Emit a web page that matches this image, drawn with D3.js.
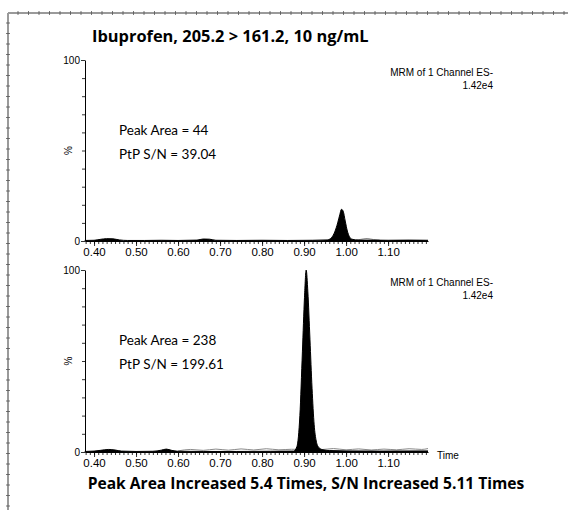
<!DOCTYPE html>
<html>
<head>
<meta charset="utf-8">
<script src="https://cdn.jsdelivr.net/npm/d3@7"></script>
<style>
  body { margin: 0; background: #fff; }
  svg { display: block; }
</style>
</head>
<body>
<div id="chart"></div>
<script>
// chromatogram data, time (min) vs. relative intensity (%)
const titleText = "Ibuprofen, 205.2 > 161.2, 10 ng/mL";
const footerText = "Peak Area Increased 5.4 Times, S/N Increased 5.11 Times";
const channelLabel = ["MRM of 1 Channel ES-", "1.42e4"];
const timeTicks = [0.40, 0.50, 0.60, 0.70, 0.80, 0.90, 1.00, 1.10];
const yLabels = [0, 100];

const trace1 = [
  [0.378, 0.3], [0.40, 0.4], [0.415, 0.9], [0.43, 1.3], [0.445, 1.2], [0.46, 0.6],
  [0.48, 0.3], [0.52, 0.3], [0.56, 0.4], [0.60, 0.3], [0.645, 0.5], [0.66, 1.1],
  [0.675, 1.0], [0.69, 0.4], [0.74, 0.3], [0.80, 0.4], [0.86, 0.3], [0.92, 0.4],
  [0.955, 0.6], [0.965, 1.8], [0.973, 5], [0.980, 10], [0.985, 14.5], [0.989, 17.5],
  [0.993, 16.5], [0.998, 11], [1.003, 5.5], [1.008, 2.4], [1.014, 1.0], [1.03, 0.5],
  [1.06, 0.5], [1.10, 0.4], [1.15, 0.5], [1.195, 0.4]
];
const noise1 = [
  [1.02, 0.4], [1.035, 0.9], [1.05, 1.4], [1.065, 0.8], [1.08, 0.5]
];
const trace2 = [
  [0.378, 0.3], [0.40, 0.5], [0.415, 0.9], [0.435, 1.4], [0.45, 1.1], [0.465, 0.5],
  [0.50, 0.3], [0.54, 0.4], [0.56, 1.0], [0.572, 1.6], [0.585, 0.9], [0.60, 0.4],
  [0.66, 0.3], [0.74, 0.3], [0.82, 0.4], [0.875, 0.5], [0.883, 3], [0.890, 20],
  [0.896, 55], [0.901, 85], [0.905, 100], [0.909, 88], [0.914, 62], [0.919, 35],
  [0.924, 15], [0.929, 6], [0.935, 2.5], [0.945, 1.2], [0.96, 0.8], [1.00, 0.6],
  [1.08, 0.5], [1.195, 0.6]
];
const noise2 = [
  [0.60, 0.6], [0.63, 1.4], [0.66, 0.9], [0.69, 1.6], [0.72, 1.0], [0.75, 1.7],
  [0.78, 1.1], [0.81, 1.8], [0.84, 1.2], [0.87, 1.5], [0.94, 1.3], [0.97, 1.9],
  [1.00, 1.2], [1.03, 1.7], [1.06, 1.1], [1.09, 1.6], [1.12, 1.2], [1.15, 1.8],
  [1.18, 1.4], [1.195, 1.9]
];
const peakNotes1 = ["Peak Area = 44", "PtP S/N = 39.04"];
const peakNotes2 = ["Peak Area = 238", "PtP S/N = 199.61"];

const W = 568, H = 510;
const svg = d3.select("#chart").append("svg").attr("width", W).attr("height", H);

// ruler-like page border (top and left)
const frame = svg.append("g").attr("class", "frame");
frame.append("line").attr("x1", 8).attr("x2", W).attr("y1", 13).attr("y2", 13)
  .attr("stroke", "#9a9a9a").attr("stroke-width", 2);
frame.append("line").attr("x1", 8).attr("x2", 8).attr("y1", 13).attr("y2", H)
  .attr("stroke", "#9a9a9a").attr("stroke-width", 2);
d3.range(18, W, 10.5).forEach(x => {
  frame.append("line").attr("x1", x).attr("x2", x).attr("y1", 11).attr("y2", 15)
    .attr("stroke", "#555").attr("stroke-width", 0.8);
});
d3.range(23, H, 10.5).forEach(y => {
  frame.append("line").attr("x1", 6).attr("x2", 10).attr("y1", y).attr("y2", y)
    .attr("stroke", "#555").attr("stroke-width", 0.8);
});

const bodyFont = "Lato, 'Open Sans', sans-serif";
const boldFont = "'Open Sans', Lato, sans-serif";
const axisFont = "'Liberation Sans', Arial, sans-serif";

svg.append("text")
  .attr("x", 92).attr("y", 42)
  .style("font-family", boldFont).style("font-weight", "bold").style("font-size", "16.4px")
  .attr("fill", "#000")
  .text(titleText);

svg.append("text")
  .attr("x", 306).attr("y", 489)
  .attr("text-anchor", "middle")
  .style("font-family", boldFont).style("font-weight", "bold").style("font-size", "15.6px")
  .attr("fill", "#000")
  .text(footerText);

const x = d3.scaleLinear().domain([0.3785, 1.195]).range([85, 428]);

function drawPanel({top, bottom, trace, noise, notes, showTime}) {
  const y = d3.scaleLinear().domain([0, 100]).range([bottom, top]);
  const g = svg.append("g").attr("class", "panel");

  const area = d3.area().x(d => x(d[0])).y0(y(0)).y1(d => y(d[1])).curve(d3.curveMonotoneX);
  const line = d3.line().x(d => x(d[0])).y(d => y(d[1])).curve(d3.curveMonotoneX);

  g.append("path").datum(noise).attr("d", line)
    .attr("fill", "none").attr("stroke", "#8a8a8a").attr("stroke-width", 1);
  g.append("path").datum(trace).attr("d", area).attr("fill", "#000");
  g.append("path").datum(trace).attr("d", line)
    .attr("fill", "none").attr("stroke", "#000").attr("stroke-width", 1);

  // x axis: major labelled ticks + minor ticks every 0.01
  const xMinor = g.append("g").attr("transform", `translate(0,${bottom})`)
    .call(d3.axisBottom(x).tickValues(d3.range(38, 120).map(v => v / 100)).tickSize(3).tickFormat(""));
  xMinor.select(".domain").remove();
  const xMajor = g.append("g").attr("transform", `translate(0,${bottom})`)
    .call(d3.axisBottom(x).tickValues(timeTicks).tickSize(5).tickSizeOuter(0).tickFormat(d3.format(".2f")));
  xMajor.selectAll("text").attr("dy", "0.6em")
    .style("font-family", axisFont).style("font-size", "11.5px").attr("fill", "#000");
  g.selectAll(".tick line").attr("stroke", "#000").attr("stroke-width", 0.8);
  xMajor.select(".domain").attr("stroke", "#000").attr("stroke-width", 1.2);

  // y axis
  const yMinor = g.append("g").attr("transform", "translate(85,0)")
    .call(d3.axisLeft(y).tickValues(d3.range(10, 100, 10)).tickSize(3).tickFormat(""));
  yMinor.select(".domain").remove();
  const yMajor = g.append("g").attr("transform", "translate(85,0)")
    .call(d3.axisLeft(y).tickValues(yLabels).tickSize(4).tickSizeOuter(0).tickPadding(1));
  yMajor.selectAll("text").style("font-family", axisFont).style("font-size", "10px").attr("fill", "#000");
  g.selectAll(".tick line").attr("stroke", "#000").attr("stroke-width", 0.8);
  yMajor.select(".domain").attr("stroke", "#000").attr("stroke-width", 1);

  g.append("text")
    .attr("transform", `translate(72,${y(50)}) rotate(-90)`)
    .attr("text-anchor", "middle")
    .style("font-family", axisFont).style("font-size", "10px")
    .text("%");

  channelLabel.forEach((t, i) => {
    g.append("text")
      .attr("x", 493).attr("y", top + 16 + i * 13)
      .attr("text-anchor", "end")
      .style("font-family", axisFont).style("font-size", "10px")
      .text(t);
  });

  notes.forEach((t, i) => {
    g.append("text")
      .attr("x", 119).attr("y", top + 75 + i * 24)
      .style("font-family", bodyFont).style("font-size", "13.5px")
      .text(t);
  });

  if (showTime) {
    g.append("text")
      .attr("x", 437).attr("y", bottom + 7)
      .style("font-family", axisFont).style("font-size", "10px")
      .text("Time");
  }
}

drawPanel({top: 60, bottom: 241, trace: trace1, noise: noise1, notes: peakNotes1, showTime: false});
drawPanel({top: 270, bottom: 452, trace: trace2, noise: noise2, notes: peakNotes2, showTime: true});
</script>
</body>
</html>
